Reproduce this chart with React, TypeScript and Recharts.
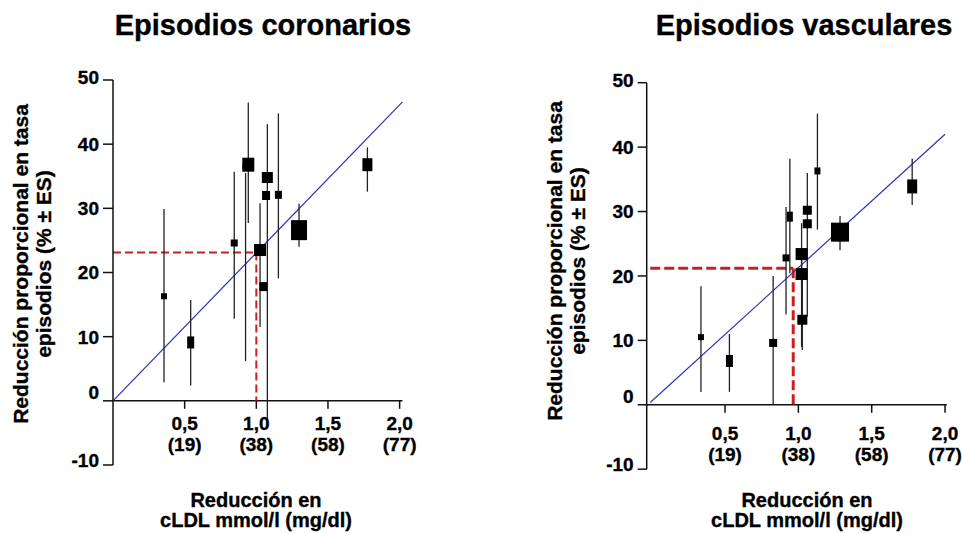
import React from 'react';
import { ComposedChart, Scatter, ErrorBar, XAxis, YAxis, ReferenceLine } from 'recharts';

const FONT = '"Liberation Sans", Arial, Helvetica, sans-serif';

// ---------- Episodios coronarios ----------
const corX = [0.356, 0.542, 0.846, 0.925, 0.944, 1.026, 1.049, 1.068, 1.077, 1.154, 1.298, 1.775];
const corY = [16.3, 9.1, 24.6, 36.5, 36.8, 23.5, 17.8, 32.0, 34.8, 32.1, 26.6, 36.8];
const corLo = [2.9, 2.4, 12.8, 6.2, 27.7, 11.5, 17.8, 32.0, -4.2, 19.1, 24.0, 32.6];
const corHi = [29.9, 15.7, 35.7, 35.5, 46.5, 30.8, 17.8, 32.0, 43.1, 44.8, 30.7, 39.5];
const corW = [6, 7, 7, 6, 12, 12, 8, 8, 11, 7, 16, 10];
const corH = [6, 12, 7, 6, 14, 12, 9, 9, 11, 8, 20, 13];
const corFit = [{ x: 0, y: 0 }, { x: 2.02, y: 46.6 }];
const corRef = { x: 1.0, y: 23.1 };

// ---------- Episodios vasculares ----------
const vasX = [0.336, 0.53, 0.828, 0.916, 0.942, 1.022, 1.022, 1.027, 1.061, 1.061, 1.13, 1.284, 1.776];
const vasY = [10.5, 6.8, 9.6, 22.8, 29.2, 23.4, 20.3, 13.2, 30.2, 28.1, 36.3, 26.8, 33.9];
const vasLo = [2.0, 2.0, 0.0, 14.0, 20.4, 18.0, 9.0, 8.5, 13.7, 28.1, 27.2, 24.0, 31.0];
const vasHi = [18.4, 11.0, 20.0, 30.7, 38.2, 28.2, 23.0, 19.4, 36.0, 28.1, 45.2, 29.3, 38.2];
const vasW = [6, 7, 8, 7, 6, 12, 12, 10, 9, 9, 6, 18, 10];
const vasH = [6, 12, 8, 7, 10, 12, 12, 10, 9, 9, 7, 19, 14];
const vasFit = [{ x: -0.01, y: 0.36 }, { x: 2.0, y: 42.0 }];
const vasRef = { x: 0.965, y: 21.2 };

// ---------- axes ----------
const yTicks = [-10, 0, 10, 20, 30, 40, 50];
const xTicks = [0.5, 1.0, 1.5, 2.0];
const xTickMain = ['0,5', '1,0', '1,5', '2,0'];
const xTickSub = ['(19)', '(38)', '(58)', '(77)'];

const titles = ['Episodios coronarios', 'Episodios vasculares'];
const yLabel1 = 'Reducción proporcional en tasa';
const yLabel2 = 'episodios (% ± ES)';
const xLabel1 = 'Reducción en';
const xLabel2 = 'cLDL mmol/l (mg/dl)';

const buildRows = (xs: number[], ys: number[], lo: number[], hi: number[], w: number[], h: number[]) =>
  xs.map((x, i) => ({ x, y: ys[i], err: [ys[i] - lo[i], hi[i] - ys[i]], w: w[i], h: h[i] }));

const W = 481;
const H = 534;

type PanelProps = {
  left: number;
  title: string;
  titleCx: number;
  rows: any[];
  fit: { x: number; y: number }[];
  refPt: { x: number; y: number };
  domain: [number, number];
  plotLeft: number;
  plotRight: number;
  plotTop: number;
  plotBottom: number;
  yTickSize: number;
  lab1: number;
  lab2: number;
  yLab1X: number;
  yLab2X: number;
  yLabCy: number;
  xLabCx: number;
  redWidth: number;
  redDash: string;
};

const Panel = (p: PanelProps) => {
  const plotH = p.plotBottom - p.plotTop;
  const shift = plotH / 6;
  const textStyle = { fontFamily: FONT, fontWeight: 700, fill: '#000', stroke: '#000', strokeWidth: 0.35 } as any;

  const XTick = (props: any) => {
    const { x, y, payload } = props;
    const y0 = y - shift;
    const i = xTicks.indexOf(payload.value);
    return (
      <g>
        <line x1={x} x2={x} y1={y0} y2={y0 + 8} stroke="#111" strokeWidth={1.5} />
        <text x={x} y={y0 + p.lab1} textAnchor="middle" fontSize={19} style={textStyle}>
          {xTickMain[i]}
        </text>
        <text x={x} y={y0 + p.lab2} textAnchor="middle" fontSize={19} style={textStyle}>
          {xTickSub[i]}
        </text>
      </g>
    );
  };

  const YTick = (props: any) => {
    const { x, y, payload } = props;
    const v = payload.value;
    const dy = v === 0 ? -9 : v === -10 ? -5 : v === 50 ? -3 : 0;
    return (
      <text x={x} y={y + dy} dy="0.36em" textAnchor="end" fontSize={19} style={textStyle}>
        {v}
      </text>
    );
  };

  const square = (props: any) => {
    const { cx, cy, payload } = props;
    return <rect x={cx - payload.w / 2} y={cy - payload.h / 2} width={payload.w} height={payload.h} fill="#000" />;
  };

  const L = p.left;
  return (
    <div style={{ position: 'absolute', left: L, top: 0, width: W, height: H }}>
      <ComposedChart
        width={W}
        height={H}
        margin={{ top: p.plotTop, right: W - p.plotRight, bottom: 0, left: 0 }}
      >
        <XAxis
          type="number"
          dataKey="x"
          domain={p.domain}
          ticks={xTicks}
          allowDataOverflow
          axisLine={false}
          tickLine={false}
          tickSize={0}
          tickMargin={0}
          height={H - p.plotBottom}
          tick={<XTick />}
          interval={0}
        />
        <YAxis
          type="number"
          dataKey="y"
          domain={[-10, 50]}
          ticks={yTicks}
          allowDataOverflow
          width={p.plotLeft}
          axisLine={{ stroke: '#111', strokeWidth: 1.5 }}
          tickLine={{ stroke: '#111', strokeWidth: 1.5 }}
          tickSize={p.yTickSize}
          tickMargin={4}
          tick={<YTick />}
          interval={0}
        />
        <ReferenceLine
          segment={[{ x: p.domain[0], y: 0 }, { x: p.domain[1], y: 0 }]}
          stroke="#111"
          strokeWidth={1.5}
          ifOverflow="visible"
        />
        <ReferenceLine
          segment={[{ x: p.fit[0].x, y: p.refPt.y }, { x: p.refPt.x, y: p.refPt.y }]}
          stroke="#cc1f1f"
          strokeWidth={p.redWidth}
          strokeDasharray={p.redDash}
          ifOverflow="visible"
        />
        <ReferenceLine
          segment={[{ x: p.refPt.x, y: p.refPt.y }, { x: p.refPt.x, y: 0 }]}
          stroke="#cc1f1f"
          strokeWidth={p.redWidth}
          strokeDasharray={p.redDash}
          ifOverflow="visible"
        />
        <ReferenceLine segment={p.fit} stroke="#3030b8" strokeWidth={1.2} ifOverflow="visible" />
        <Scatter data={p.rows} dataKey="y" isAnimationActive={false} shape={square}>
          <ErrorBar dataKey="err" direction="y" width={0} stroke="#222" strokeWidth={1.3} isAnimationActive={false} />
        </Scatter>
        <text x={p.titleCx - L} y={35} textAnchor="middle" fontSize={29} style={textStyle}>
          {p.title}
        </text>
        <text
          x={p.yLab1X - L}
          y={p.yLabCy}
          transform={`rotate(-90, ${p.yLab1X - L}, ${p.yLabCy})`}
          textAnchor="middle"
          fontSize={21}
          style={textStyle}
        >
          {yLabel1}
        </text>
        <text
          x={p.yLab2X - L}
          y={p.yLabCy}
          transform={`rotate(-90, ${p.yLab2X - L}, ${p.yLabCy})`}
          textAnchor="middle"
          fontSize={21}
          style={textStyle}
        >
          {yLabel2}
        </text>
        <text x={p.xLabCx - L} y={507} textAnchor="middle" fontSize={20} style={textStyle}>
          {xLabel1}
        </text>
        <text x={p.xLabCx - L} y={527} textAnchor="middle" fontSize={20} style={textStyle}>
          {xLabel2}
        </text>
      </ComposedChart>
    </div>
  );
}

export default function App() {
  const corRows = buildRows(corX, corY, corLo, corHi, corW, corH);
  const vasRows = buildRows(vasX, vasY, vasLo, vasHi, vasW, vasH);
  return (
    <div style={{ position: 'absolute', left: 0, top: 0, width: 962, height: 534, background: '#fff', overflow: 'hidden' }}>
      <Panel
        left={0}
        title={titles[0]}
        titleCx={263}
        rows={corRows}
        fit={corFit}
        refPt={corRef}
        domain={[0, 2.02]}
        plotLeft={113}
        plotRight={402.5}
        plotTop={80}
        plotBottom={465}
        yTickSize={10}
        lab1={29}
        lab2={50}
        yLab1X={28}
        yLab2X={51}
        yLabCy={264}
        xLabCx={256}
        redWidth={2}
        redDash="8 4"
      />
      <Panel
        left={481}
        title={titles[1]}
        titleCx={804}
        rows={vasRows}
        fit={vasFit}
        refPt={vasRef}
        domain={[-0.034, 2.012]}
        plotLeft={165.7}
        plotRight={465.8}
        plotTop={82.7}
        plotBottom={469.2}
        yTickSize={9}
        lab1={35}
        lab2={56}
        yLab1X={562}
        yLab2X={585}
        yLabCy={261}
        xLabCx={807}
        redWidth={3}
        redDash="10 4"
      />
    </div>
  );
}
